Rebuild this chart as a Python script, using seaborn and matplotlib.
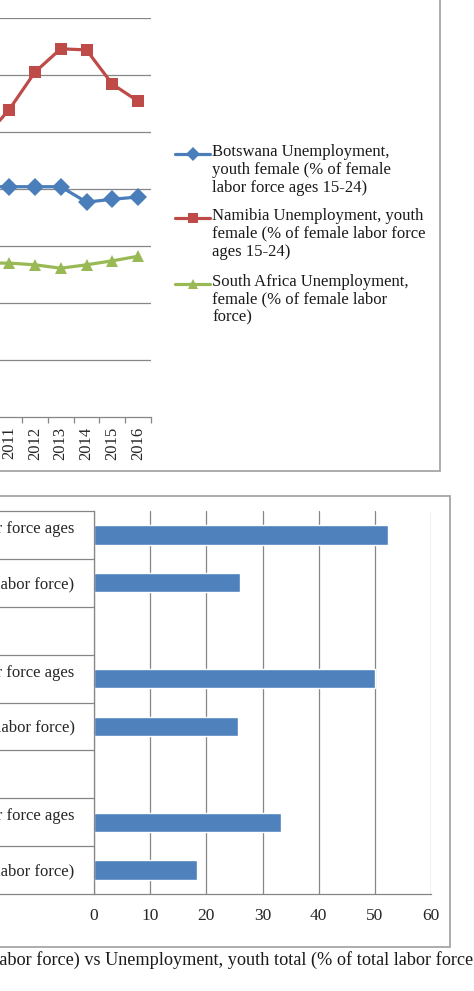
import pandas as pd
import seaborn as sns
import matplotlib.pyplot as plt
from matplotlib.patches import Rectangle
from matplotlib.lines import Line2D
from matplotlib.ticker import FixedLocator

# data
years = [2010, 2011, 2012, 2013, 2014, 2015, 2016]
botswana_youth_female = [40.4, 40.4, 40.4, 40.4, 37.7, 38.2, 38.6]
namibia_youth_female = [48.8, 53.9, 60.5, 64.6, 64.4, 58.4, 55.4]
south_africa_female = [27.0, 27.0, 26.7, 26.1, 26.7, 27.4, 28.2]

line_labels = [
    "Botswana Unemployment,\nyouth female (% of female\nlabor force ages 15-24)",
    "Namibia Unemployment, youth\nfemale (% of female labor force\nages 15-24)",
    "South Africa Unemployment,\nfemale (% of female labor\nforce)",
]

bar_categories = [
    "Botswana Unemployment, youth total (% of total labor force ages\n15-24)",
    "Botswana Unemployment, total (% of total labor force)",
    " ",
    "Namibia Unemployment, youth total (% of total labor force ages\n15-24)",
    "Namibia Unemployment, total (% of total labor force)",
    "  ",
    "South Africa Unemployment, youth total (% of total labor force ages\n15-24)",
    "South Africa Unemployment, total (% of total labor force)",
]
bar_values = [52.3, 26.0, None, 50.0, 25.6, None, 33.3, 18.3]

caption = "Unemployment, total (% of total labor force) vs Unemployment, youth total (% of total labor force"

colors = ["#4A7EBB", "#BE4B48", "#98B954"]
grid_col = "#868686"
frame_col = "#A6A6A6"

sns.set_style("white")
plt.rcParams['font.family'] = ['Liberation Serif', 'DejaVu Serif']
plt.rcParams['font.size'] = 12

W, H = 474, 991
fig = plt.figure(figsize=(W / 100, H / 100), dpi=100)


def fx(px):
    return px / W


def fy(py):
    return 1 - py / H


# ---- top chart: lines ----
ax1 = fig.add_axes([fx(-29.6), fy(417), fx(180.6), (417 - 18) / H])
df = pd.DataFrame({
    'year': years * 3,
    'value': botswana_youth_female + namibia_youth_female + south_africa_female,
    'series': [line_labels[0]] * 7 + [line_labels[1]] * 7 + [line_labels[2]] * 7,
})
sns.lineplot(data=df, x='year', y='value', hue='series', style='series',
             palette=colors, markers=['D', 's', '^'], dashes=False,
             linewidth=2.3, markersize=9, markeredgewidth=0, legend=False, ax=ax1)
ax1.set_xlim(2009.5, 2016.5)
ax1.set_ylim(0, 70)
ax1.set_yticks(range(10, 71, 10))
ax1.set_yticklabels([])
ax1.yaxis.grid(True, color=grid_col, lw=0.9)
ax1.set_xticks(years)
ax1.set_xticklabels([str(y) for y in years], rotation=90)
ax1.xaxis.set_minor_locator(FixedLocator([y + 0.5 for y in years]))
ax1.tick_params(axis='x', which='major', length=0, pad=7)
ax1.tick_params(axis='x', which='minor', length=4, width=0.9, color=grid_col, direction='out', bottom=True)
ax1.tick_params(axis='y', length=0)
ax1.set_xlabel('')
ax1.set_ylabel('')
for s in ['top', 'right', 'left']:
    ax1.spines[s].set_visible(False)
ax1.spines['bottom'].set_color(grid_col)
ax1.spines['bottom'].set_linewidth(0.9)

# legend, drawn entry by entry so the key sits on the first text line
markers = ['D', 's', '^']
for lab, col, mk, ty in zip(line_labels, colors, markers, [154, 218, 284]):
    fig.add_artist(Line2D([fx(175), fx(210)], [fy(ty), fy(ty)], color=col, lw=2.3))
    fig.add_artist(Line2D([fx(192.5)], [fy(ty)], color=col, marker=mk,
                          markersize=7, markeredgewidth=0))
    fig.text(fx(212), fy(ty - 10.5), lab, ha='left', va='top', fontsize=12,
             linespacing=1.17, color='#1a1a1a')

fig.add_artist(Rectangle((-0.5, fy(471)), fx(440) + 0.5, 2, transform=fig.transFigure,
                         fill=False, edgecolor=frame_col, lw=1.3))

# ---- bottom chart: bars ----
ax2 = fig.add_axes([fx(94), fy(894), fx(337), 383 / H])
bdf = pd.DataFrame({'category': bar_categories, 'value': bar_values}).dropna()
sns.barplot(data=bdf, x='value', y='category', order=bar_categories, color="#4F81BD",
            width=0.4, saturation=1, ax=ax2)
ax2.set_xlim(0, 60)
ax2.set_ylim(len(bar_categories) - 0.5, -0.5)
ax2.set_xticks(range(0, 61, 10))
ax2.xaxis.grid(True, color=grid_col, lw=0.9)
ax2.set_axisbelow(True)
ax2.set_yticks(range(len(bar_categories)))
ax2.set_yticklabels(bar_categories, multialignment='center', fontsize=12)
ax2.yaxis.set_minor_locator(FixedLocator([i - 0.5 for i in range(len(bar_categories) + 1)]))
ax2.tick_params(axis='y', which='major', length=0, pad=14)
ax2.tick_params(axis='y', which='minor', length=120, width=0.9, color=grid_col, direction='out', left=True)
ax2.tick_params(axis='x', length=0, pad=10, labelsize=12.5)
ax2.set_xlabel('')
ax2.set_ylabel('')
for s in ['top', 'right']:
    ax2.spines[s].set_visible(False)
for s in ['left', 'bottom']:
    ax2.spines[s].set_color(grid_col)
    ax2.spines[s].set_linewidth(0.9)

fig.add_artist(Rectangle((-0.5, fy(947)), fx(450) + 0.5, (947 - 496) / H, transform=fig.transFigure,
                         fill=False, edgecolor=frame_col, lw=1.3))

fig.text(fx(473), fy(960), caption, ha='right', va='center', fontsize=13.15, color='#1a1a1a')

fig.savefig("out.png", dpi=100)
